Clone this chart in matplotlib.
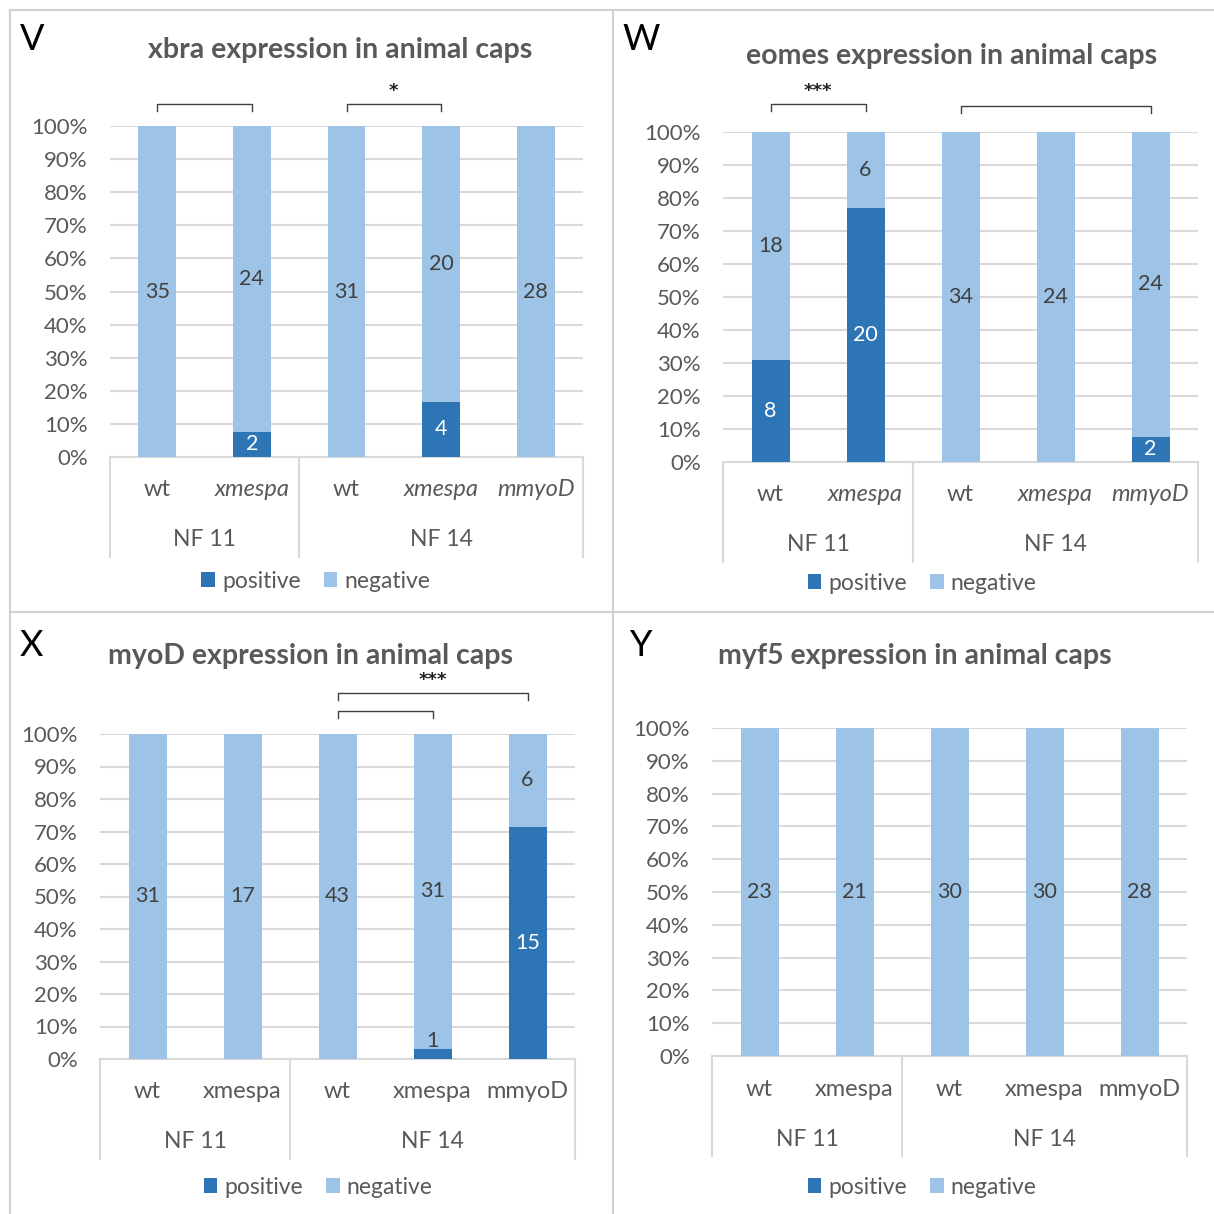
import matplotlib.pyplot as plt
from matplotlib.transforms import blended_transform_factory

plt.rcParams['font.family'] = ['Lato', 'DejaVu Sans']

W_PX, H_PX = 1214, 1214

# categories
conditions = ['wt', 'xmespa', 'wt', 'xmespa', 'mmyoD']
stages = ['NF 11', 'NF 14']

# counts per panel
xbra_pos = [0, 2, 0, 4, 0]
xbra_neg = [35, 24, 31, 20, 28]
eomes_pos = [8, 20, 0, 0, 2]
eomes_neg = [18, 6, 34, 24, 24]
myod_pos = [0, 0, 0, 1, 15]
myod_neg = [31, 17, 43, 31, 6]
myf5_pos = [0, 0, 0, 0, 0]
myf5_neg = [23, 21, 30, 30, 28]

DARK = '#2E75B6'
LIGHT = '#9DC3E6'
GRID = '#D9D9D9'
TXT = '#595959'

fig = plt.figure(figsize=(W_PX / 100, H_PX / 100), dpi=100)


def fx(x):
    return x / W_PX


def fy(y):
    return 1 - y / H_PX


# panel frames
for xs, ys in [([10, 1214], [10, 10]), ([10, 10], [10, 1214]),
               ([613, 613], [10, 1214]), ([10, 1214], [612, 612])]:
    fig.add_artist(plt.Line2D([fx(v) for v in xs], [fy(v) for v in ys],
                              color='#D0D0D0', lw=1.5))


def panel(box, pos, neg, title, title_xy, letter, letter_xy, italic,
          brackets, legend_xy):
    left, top, right, bottom = box
    h = bottom - top
    ax = fig.add_axes([fx(left), fy(bottom), fx(right - left), h / H_PX])
    x = list(range(len(pos)))
    tot = [p + n for p, n in zip(pos, neg)]
    pos_pct = [100 * p / t for p, t in zip(pos, tot)]
    neg_pct = [100 * n / t for n, t in zip(neg, tot)]
    ax.bar(x, pos_pct, width=0.4, color=DARK, label='positive', zorder=3)
    ax.bar(x, neg_pct, width=0.4, bottom=pos_pct, color=LIGHT,
           label='negative', zorder=3)
    for i in x:
        if pos[i]:
            yc = max(pos_pct[i] / 2, 5.5 if pos_pct[i] < 5 else 0)
            col = 'white' if pos_pct[i] >= 5 else '#404040'
            ax.text(i, yc, str(pos[i]), ha='center', va='center',
                    color=col, fontsize=15.5, zorder=4)
        ax.text(i, pos_pct[i] + neg_pct[i] / 2, str(neg[i]), ha='center',
                va='center', color='#404040', fontsize=15.5, zorder=4)
    ax.set_xlim(-0.5, 4.5)
    ax.set_ylim(0, 100)
    ax.set_yticks(range(0, 101, 10))
    ax.set_yticklabels([f'{v}%' for v in range(0, 101, 10)])
    ax.tick_params(axis='y', length=0, labelsize=16, labelcolor=TXT, pad=16)
    ax.tick_params(axis='x', length=0, labelbottom=False)
    ax.grid(axis='y', color=GRID, lw=1.5, zorder=0)
    for s in ['top', 'right', 'left']:
        ax.spines[s].set_visible(False)
    ax.spines['bottom'].set_color(GRID)
    ax.spines['bottom'].set_linewidth(1.5)

    tr = blended_transform_factory(ax.transData, ax.transAxes)
    for xv in [-0.5, 1.5, 4.5]:
        ax.plot([xv, xv], [0, -100 / h], color=GRID, lw=1.5, transform=tr,
                clip_on=False)
    for i, c in enumerate(conditions):
        style = 'italic' if (italic and c != 'wt') else 'normal'
        ax.text(i, -33 / h, c, transform=tr, ha='center', va='center',
                fontsize=17, color=TXT, style=style)
    ax.text(0.5, -83 / h, stages[0], transform=tr, ha='center', va='center',
            fontsize=16.5, color=TXT)
    ax.text(3, -83 / h, stages[1], transform=tr, ha='center', va='center',
            fontsize=16.5, color=TXT)

    for a, b, yb, star in brackets:
        ax.plot([a, a, b, b], [yb - 2.2, yb, yb, yb - 2.2], color='#404040',
                lw=1, clip_on=False)
        if star:
            ax.text((a + b) / 2, yb + 1.2, star, ha='center', va='bottom',
                    fontsize=13, color='#202020', family='DejaVu Sans',
                    fontweight='bold')

    ax.legend(loc='center', bbox_to_anchor=legend_xy, ncol=2, frameon=False,
              fontsize=16.5, labelcolor=TXT, handlelength=0.6,
              handleheight=0.6, handletextpad=0.3, columnspacing=1.0)

    fig.text(fx(title_xy[0]), fy(title_xy[1]), title, ha='center',
             va='center', fontsize=20.5, fontweight='bold', color=TXT)
    fig.text(fx(letter_xy[0]), fy(letter_xy[1]), letter, ha='left',
             va='center', fontsize=26, color='black')
    return ax


panel((110, 126, 583, 457), xbra_pos, xbra_neg,
      'xbra expression in animal caps', (340, 50), 'V', (20, 40), True,
      [(0, 1, 106.6, ''), (2, 3, 106.6, '*')], (0.435, -0.375))
panel((723, 132, 1198, 462), eomes_pos, eomes_neg,
      'eomes expression in animal caps', (952, 56), 'W', (622, 40), True,
      [(0, 1, 108.5, '***'), (2, 4, 108, '')], (0.419, -0.367))
panel((100, 734, 575, 1059), myod_pos, myod_neg,
      'myoD expression in animal caps', (311, 656), 'X', (20, 645), False,
      [(2, 4, 112.6, '***'), (2, 3, 107, '')], (0.459, -0.394))
panel((712, 728, 1187, 1056), myf5_pos, myf5_neg,
      'myf5 expression in animal caps', (915, 656), 'Y', (630, 645), False,
      [], (0.442, -0.40))

fig.savefig('out.png', dpi=100)
